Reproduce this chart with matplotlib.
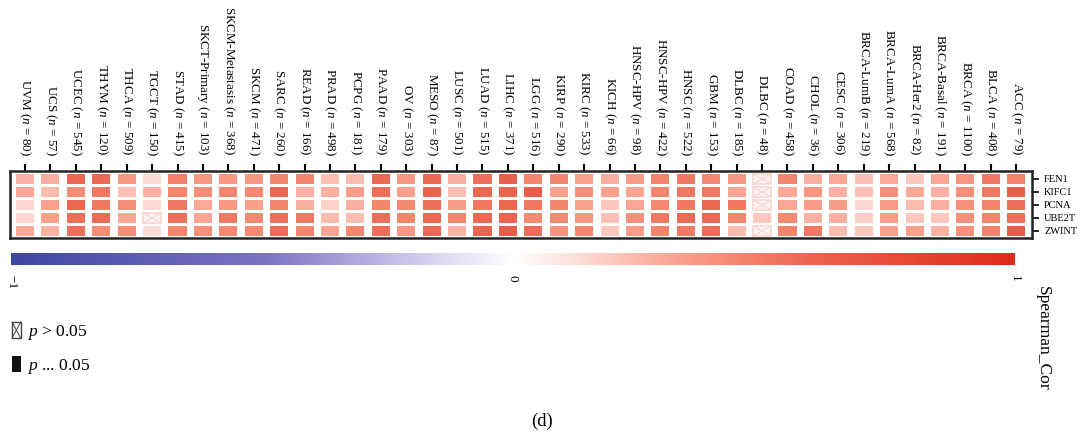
import numpy as np
import matplotlib.pyplot as plt
from matplotlib.colors import LinearSegmentedColormap, Normalize
from matplotlib.patches import Rectangle, Patch
from matplotlib.collections import PatchCollection
from matplotlib.lines import Line2D
from matplotlib.legend_handler import HandlerBase

plt.rcParams['font.family'] = 'Liberation Serif'
plt.rcParams['mathtext.fontset'] = 'custom'
plt.rcParams['mathtext.rm'] = 'Liberation Serif'
plt.rcParams['mathtext.it'] = 'Liberation Serif:italic'

cancers = ['UVM', 'UCS', 'UCEC', 'THYM', 'THCA', 'TGCT', 'STAD', 'SKCT-Primary',
           'SKCM-Metastasis', 'SKCM', 'SARC', 'READ', 'PRAD', 'PCPG', 'PAAD', 'OV',
           'MESO', 'LUSC', 'LUAD', 'LIHC', 'LGG', 'KIRP', 'KIRC', 'KICH', 'HNSC-HPV',
           'HNSC-HPV', 'HNSC', 'GBM', 'DLBC', 'DLBC', 'COAD', 'CHOL', 'CESC',
           'BRCA-LumB', 'BRCA-LumA', 'BRCA-Her2', 'BRCA-Basal', 'BRCA', 'BLCA', 'ACC']
counts = [80, 57, 545, 120, 509, 150, 415, 103, 368, 471, 260, 166, 498, 181, 179, 303,
          87, 501, 515, 371, 516, 290, 533, 66, 98, 422, 522, 153, 185, 48, 458, 36, 306,
          219, 568, 82, 191, 1100, 408, 79]
genes = ['FEN1', 'KIFC1', 'PCNA', 'UBE2T', 'ZWINT']

# spearman correlation per gene, one value per cancer type
fen1 = [0.27, 0.28, 0.58, 0.58, 0.36, 0.14, 0.48, 0.36, 0.36, 0.36,
        0.45, 0.45, 0.22, 0.24, 0.58, 0.36, 0.58, 0.28, 0.55, 0.62,
        0.45, 0.45, 0.33, 0.28, 0.35, 0.46, 0.50, 0.43, 0.36, 0.03,
        0.45, 0.28, 0.30, 0.22, 0.30, 0.20, 0.31, 0.38, 0.50, 0.46]
kifc1 = [0.32, 0.24, 0.42, 0.50, 0.22, 0.27, 0.45, 0.42, 0.45, 0.43,
         0.58, 0.27, 0.28, 0.35, 0.55, 0.34, 0.60, 0.23, 0.58, 0.60,
         0.65, 0.34, 0.40, 0.34, 0.31, 0.46, 0.50, 0.50, 0.31, 0.04,
         0.30, 0.38, 0.27, 0.22, 0.40, 0.30, 0.27, 0.40, 0.50, 0.62]
pcna = [0.15, 0.33, 0.58, 0.50, 0.42, 0.14, 0.50, 0.30, 0.36, 0.34,
        0.45, 0.28, 0.17, 0.28, 0.45, 0.43, 0.55, 0.35, 0.50, 0.58,
        0.50, 0.45, 0.33, 0.20, 0.31, 0.43, 0.50, 0.58, 0.50, 0.03,
        0.31, 0.35, 0.35, 0.15, 0.35, 0.24, 0.28, 0.40, 0.46, 0.56]
ube2t = [0.15, 0.34, 0.55, 0.57, 0.30, 0.02, 0.55, 0.31, 0.50, 0.43,
         0.55, 0.50, 0.24, 0.23, 0.55, 0.45, 0.58, 0.45, 0.58, 0.60,
         0.43, 0.43, 0.37, 0.22, 0.40, 0.50, 0.57, 0.58, 0.45, 0.20,
         0.43, 0.27, 0.28, 0.18, 0.35, 0.20, 0.20, 0.40, 0.46, 0.55]
zwint = [0.30, 0.27, 0.55, 0.42, 0.42, 0.14, 0.45, 0.40, 0.43, 0.43,
         0.56, 0.45, 0.31, 0.45, 0.55, 0.37, 0.58, 0.27, 0.60, 0.65,
         0.56, 0.39, 0.45, 0.20, 0.35, 0.46, 0.50, 0.56, 0.24, 0.03,
         0.46, 0.50, 0.24, 0.20, 0.34, 0.34, 0.27, 0.40, 0.46, 0.65]

# (gene, cancer index) pairs with p > 0.05
not_significant = [('UBE2T', 5), ('FEN1', 29), ('KIFC1', 29), ('PCNA', 29), ('ZWINT', 29)]

vals = np.array([fen1, kifc1, pcna, ube2t, zwint])
ns = np.zeros(vals.shape, dtype=bool)
for g, j in not_significant:
    ns[genes.index(g), j] = True

cmap = LinearSegmentedColormap.from_list('cor', [
    (0.0, '#3d47a4'), (0.25, '#7b72c2'), (0.4, '#cfc8ec'), (0.5, '#ffffff'),
    (0.575, '#fdd8d0'), (0.65, '#fba898'), (0.725, '#f5866e'), (0.8, '#ea6450'),
    (1.0, '#dd2a1a')])
norm = Normalize(-1, 1)

fig = plt.figure(figsize=(10.8, 4.34), dpi=100)
ax = fig.add_axes([0.0088, 0.4516, 0.9465, 0.1544])

w, h = 0.71, 0.77
rects, cvals = [], []
for i in range(len(genes)):
    for j in range(len(cancers)):
        if ns[i, j]:
            # pale box with a cross for non-significant cells
            x0, y0 = j - w / 2, i - h / 2
            ax.add_patch(Rectangle((x0, y0), w, h, facecolor='#fff4f2',
                                   edgecolor='#f8d6d0', lw=1.2))
            ax.plot([x0, x0 + w], [y0, y0 + h], color='#f8d6d0', lw=0.9)
            ax.plot([x0, x0 + w], [y0 + h, y0], color='#f8d6d0', lw=0.9)
            continue
        rects.append(Rectangle((j - w / 2, i - h / 2), w, h))
        cvals.append(vals[i, j])

pc = PatchCollection(rects, cmap=cmap, norm=norm, edgecolor='none')
pc.set_array(np.array(cvals))
ax.add_collection(pc)

labels = [f'{c} ($n$ = {n})' for c, n in zip(cancers, counts)]
ax.set_xticks(range(len(cancers)))
ax.set_xticklabels(labels, rotation=-90, fontsize=9.4)
ax.xaxis.tick_top()
ax.tick_params(axis='x', length=5, width=1.5, pad=6)
ax.yaxis.tick_right()
ax.set_yticks(range(len(genes)))
ax.set_yticklabels(genes, fontsize=7.5)
ax.tick_params(axis='y', length=5, width=1.2, pad=4)
ax.set_xlim(-0.61, len(cancers) - 0.39)
ax.set_ylim(4.54, -0.615)
for s in ax.spines.values():
    s.set_linewidth(1.8)
    s.set_color('#222222')

# colour scale bar
cax = fig.add_axes([0.0102, 0.3894, 0.9296, 0.0284])
sm = plt.cm.ScalarMappable(norm=norm, cmap=cmap)
cb = fig.colorbar(sm, cax=cax, orientation='horizontal', ticks=[-1, 0, 1])
cb.outline.set_visible(False)
cax.tick_params(length=0, pad=7, labelsize=9.5, labelrotation=-90)

fig.text(0.9657, 0.221, 'Spearman_Cor', rotation=-90, ha='center', va='center', fontsize=12.6)


class CrossBox(HandlerBase):
    def create_artists(self, legend, orig_handle, xdescent, ydescent, width, height,
                       fontsize, trans):
        x0, y0 = -xdescent, -ydescent
        box = Rectangle((x0, y0), width, height, facecolor='white', edgecolor='#444444',
                        lw=1.0, transform=trans)
        d1 = Line2D([x0, x0 + width], [y0, y0 + height], color='#444444', lw=0.7,
                    transform=trans)
        d2 = Line2D([x0, x0 + width], [y0 + height, y0], color='#444444', lw=0.7,
                    transform=trans)
        return [box, d1, d2]


ns_handle = Patch()
sig_handle = Patch(facecolor='#111111', edgecolor='none')
fig.legend([ns_handle, sig_handle], ['$p$ > 0.05', '$p$ ... 0.05'],
           handler_map={ns_handle: CrossBox()},
           loc='upper left', bbox_to_anchor=(12 / 1080, 1 - 322 / 434),
           frameon=False, fontsize=12.6, handlelength=0.5, handleheight=1.05,
           handletextpad=0.35, labelspacing=0.8, borderpad=0, borderaxespad=0)

fig.text(0.502, 1 - 421 / 434, '(d)', ha='center', va='center', fontsize=13.5)

fig.savefig('out.png', dpi=100)
